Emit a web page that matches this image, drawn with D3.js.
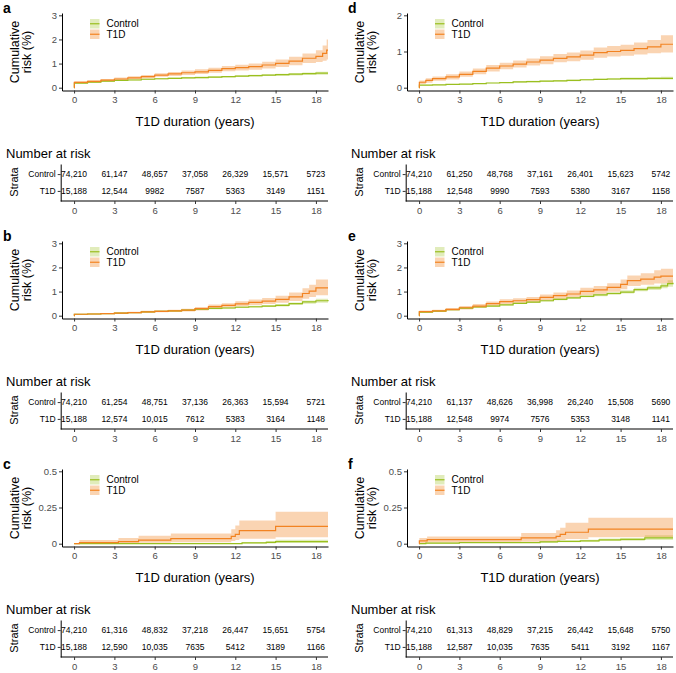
<!DOCTYPE html>
<html>
<head>
<meta charset="utf-8">
<script src="https://cdn.jsdelivr.net/npm/d3@7"></script>
<style>
body { margin: 0; background: #fff; }
svg text { font-family: "Liberation Sans", Arial, sans-serif; }
</style>
</head>
<body>
<div id="chart"></div>
<script>
const years = [0, 3, 6, 9, 12, 15, 18];
const groups = ["Control", "T1D"];
const panelIds = ["a", "b", "c", "d", "e", "f"];

// cumulative risk (%) as [time, estimate, lower, upper]
const aControl = [[0,0,0,0],[0.02,0.19,0.17,0.21],[1,0.23,0.21,0.25],[2,0.27,0.25,0.29],[3,0.30,0.28,0.32],[4,0.32,0.30,0.35],[5,0.35,0.32,0.38],[6,0.37,0.34,0.40],[7,0.39,0.36,0.42],[8,0.41,0.38,0.44],[9,0.42,0.39,0.46],[10,0.44,0.40,0.47],[11,0.46,0.42,0.49],[12,0.48,0.44,0.52],[13,0.50,0.46,0.54],[14,0.52,0.48,0.56],[15,0.54,0.49,0.58],[16,0.56,0.51,0.61],[17,0.58,0.53,0.63],[18,0.60,0.54,0.66],[18.9,0.60,0.54,0.66]];
const aT1D = [[0,0,0,0],[0.02,0.22,0.18,0.27],[1,0.26,0.21,0.31],[2,0.31,0.26,0.36],[3,0.36,0.30,0.42],[4,0.41,0.35,0.47],[5,0.46,0.39,0.53],[6,0.52,0.45,0.60],[7,0.57,0.49,0.65],[8,0.62,0.53,0.71],[9,0.66,0.57,0.76],[10,0.72,0.62,0.83],[11,0.79,0.68,0.90],[12,0.83,0.71,0.95],[13,0.87,0.74,1.00],[14,0.94,0.80,1.08],[15,1.01,0.86,1.17],[16,1.10,0.93,1.28],[17,1.22,1.02,1.42],[18,1.30,1.07,1.55],[18.5,1.42,1.12,1.75],[18.8,1.56,1.17,2.0],[18.9,1.56,1.17,2.0]];

const bControl = [[0,0,0,0],[0.02,0.06,0.05,0.07],[1,0.07,0.06,0.08],[2,0.09,0.08,0.10],[3,0.11,0.10,0.12],[4,0.13,0.12,0.15],[5,0.16,0.14,0.18],[6,0.18,0.16,0.20],[7,0.20,0.18,0.22],[8,0.23,0.21,0.26],[9,0.27,0.24,0.30],[10,0.30,0.27,0.33],[11,0.32,0.29,0.35],[12,0.35,0.32,0.39],[13,0.37,0.33,0.41],[14,0.40,0.36,0.44],[15,0.43,0.38,0.48],[16,0.50,0.44,0.55],[17,0.57,0.50,0.63],[18,0.62,0.54,0.70],[18.9,0.65,0.56,0.75]];
const bT1D = [[0,0,0,0],[0.02,0.06,0.04,0.08],[1,0.07,0.05,0.09],[2,0.09,0.07,0.11],[3,0.11,0.08,0.14],[4,0.13,0.10,0.16],[5,0.16,0.12,0.20],[6,0.18,0.14,0.23],[7,0.20,0.15,0.25],[8,0.23,0.17,0.29],[9,0.29,0.22,0.36],[10,0.38,0.30,0.46],[11,0.43,0.34,0.52],[12,0.49,0.39,0.60],[13,0.55,0.44,0.67],[14,0.60,0.48,0.73],[15,0.68,0.54,0.83],[16,0.78,0.61,0.96],[17,0.92,0.70,1.14],[17.5,1.02,0.77,1.28],[18,1.15,0.85,1.50],[18.9,1.15,0.85,1.50]];

const cControl = [[0,0,0,0],[12.5,0.006,0.001,0.012],[14.3,0.009,0.002,0.018],[15,0.014,0.005,0.028],[18.9,0.014,0.005,0.028]];
const cT1D = [[0,0,0,0],[0.4,0.007,0,0.025],[3.3,0.014,0.002,0.04],[4.8,0.025,0.006,0.055],[7.2,0.035,0.01,0.07],[11.7,0.05,0.018,0.10],[12.0,0.065,0.025,0.125],[12.3,0.09,0.035,0.16],[15,0.12,0.045,0.22],[18.9,0.12,0.045,0.22]];

const dControl = [[0,0,0,0],[0.02,0.07,0.06,0.08],[1,0.08,0.07,0.09],[2,0.09,0.08,0.10],[3,0.10,0.09,0.11],[4,0.11,0.10,0.12],[5,0.13,0.12,0.14],[6,0.14,0.13,0.16],[7,0.16,0.14,0.18],[8,0.17,0.15,0.19],[9,0.18,0.16,0.20],[10,0.19,0.17,0.21],[11,0.20,0.18,0.22],[12,0.22,0.20,0.24],[13,0.23,0.21,0.25],[14,0.24,0.21,0.27],[15,0.25,0.22,0.28],[16,0.25,0.22,0.28],[17,0.26,0.23,0.29],[18,0.26,0.23,0.30],[18.9,0.26,0.23,0.30]];
const dT1D = [[0,0,0,0],[0.02,0.15,0.10,0.20],[0.5,0.20,0.14,0.26],[1,0.25,0.19,0.31],[2,0.30,0.23,0.37],[3,0.37,0.30,0.45],[4,0.45,0.37,0.53],[5,0.54,0.45,0.63],[6,0.60,0.51,0.69],[7,0.65,0.56,0.75],[8,0.71,0.61,0.81],[9,0.76,0.65,0.87],[10,0.81,0.70,0.93],[11,0.85,0.73,0.97],[12,0.90,0.77,1.03],[13,0.97,0.83,1.11],[14,1.00,0.86,1.15],[15,1.03,0.88,1.19],[16,1.08,0.92,1.25],[17,1.13,0.95,1.32],[18,1.20,0.97,1.45],[18.9,1.20,0.97,1.48]];

const eControl = [[0,0,0,0],[0.02,0.15,0.13,0.17],[1,0.19,0.17,0.21],[2,0.25,0.23,0.27],[3,0.31,0.29,0.33],[4,0.36,0.34,0.39],[5,0.40,0.38,0.43],[6,0.45,0.42,0.48],[7,0.51,0.48,0.54],[8,0.56,0.53,0.59],[9,0.62,0.59,0.66],[10,0.68,0.64,0.72],[11,0.74,0.70,0.78],[12,0.80,0.76,0.85],[13,0.86,0.81,0.91],[14,0.92,0.87,0.98],[15,0.98,0.92,1.05],[16,1.08,1.01,1.16],[17,1.15,1.07,1.24],[18,1.24,1.14,1.35],[18.5,1.33,1.20,1.47],[18.9,1.37,1.22,1.52]];
const eT1D = [[0,0,0,0],[0.02,0.17,0.12,0.22],[1,0.20,0.15,0.25],[2,0.26,0.20,0.32],[3,0.33,0.26,0.40],[4,0.40,0.32,0.48],[5,0.50,0.41,0.59],[6,0.58,0.48,0.68],[7,0.62,0.52,0.72],[8,0.67,0.56,0.78],[9,0.76,0.64,0.88],[10,0.83,0.70,0.96],[11,0.90,0.76,1.04],[12,1.01,0.86,1.16],[13,1.07,0.91,1.23],[14,1.17,0.99,1.35],[15,1.30,1.10,1.50],[15.5,1.45,1.23,1.67],[16.5,1.52,1.28,1.76],[17.5,1.60,1.33,1.88],[18,1.64,1.35,1.95],[18.9,1.64,1.35,1.95]];

const fControl = [[0,0,0,0],[0.5,0.004,0,0.008],[3,0.008,0.004,0.012],[9,0.012,0.007,0.018],[10.3,0.016,0.01,0.022],[12,0.02,0.013,0.028],[13.4,0.027,0.018,0.036],[15,0.03,0.02,0.04],[16.8,0.04,0.025,0.058],[18.9,0.04,0.025,0.058]];
const fT1D = [[0,0,0,0],[0.02,0.019,0.003,0.04],[0.6,0.028,0.008,0.049],[7.6,0.04,0.013,0.074],[10.2,0.051,0.018,0.093],[10.5,0.065,0.025,0.11],[10.9,0.079,0.032,0.144],[12.6,0.10,0.045,0.18],[18.9,0.10,0.045,0.18]];

const yTicksA = [0, 1, 2, 3];
const yTicksB = [0, 1, 2, 3];
const yTicksC = [0, 0.25, 0.5];
const yTicksD = [0, 1, 2];
const yTicksE = [0, 1, 2, 3];
const yTicksF = [0, 0.25, 0.5];

// number at risk
const riskControlA = [74210, 61147, 48657, 37058, 26329, 15571, 5723];
const riskT1DA = [15188, 12544, 9982, 7587, 5363, 3149, 1151];
const riskControlB = [74210, 61254, 48751, 37136, 26363, 15594, 5721];
const riskT1DB = [15188, 12574, 10015, 7612, 5383, 3164, 1148];
const riskControlC = [74210, 61316, 48832, 37218, 26447, 15651, 5754];
const riskT1DC = [15188, 12590, 10035, 7635, 5412, 3189, 1166];
const riskControlD = [74210, 61250, 48768, 37161, 26401, 15623, 5742];
const riskT1DD = [15188, 12548, 9990, 7593, 5380, 3167, 1158];
const riskControlE = [74210, 61137, 48626, 36998, 26240, 15508, 5690];
const riskT1DE = [15188, 12548, 9974, 7576, 5353, 3148, 1141];
const riskControlF = [74210, 61313, 48829, 37215, 26442, 15648, 5750];
const riskT1DF = [15188, 12587, 10035, 7635, 5411, 3192, 1167];

const panels = [
    { curves: [aControl, aT1D], yTicks: yTicksA, risk: [riskControlA, riskT1DA] },
    { curves: [bControl, bT1D], yTicks: yTicksB, risk: [riskControlB, riskT1DB] },
    { curves: [cControl, cT1D], yTicks: yTicksC, risk: [riskControlC, riskT1DC] },
    { curves: [dControl, dT1D], yTicks: yTicksD, risk: [riskControlD, riskT1DD] },
    { curves: [eControl, eT1D], yTicks: yTicksE, risk: [riskControlE, riskT1DE] },
    { curves: [fControl, fT1D], yTicks: yTicksF, risk: [riskControlF, riskT1DF] }
];

const colors = ["#9abf1f", "#f28322"];
const tickGrey = "#4d4d4d";
const fmtRisk = n => n >= 10000 ? d3.format(",")(n) : String(n);

const svg = d3.select("#chart")
    .append("svg")
    .attr("width", 676)
    .attr("height", 673);

const x = d3.scaleLinear().domain([-0.9, 18.9]).range([62, 328]);

const styleAxis = (g, labelColor, size) => {
    g.select(".domain").attr("stroke", "#000").attr("stroke-width", 1);
    g.selectAll(".tick line").attr("stroke", "#333");
    g.selectAll(".tick text")
        .attr("fill", labelColor)
        .style("font-size", size)
        .style("font-family", "'Liberation Sans', Arial, sans-serif");
};

panels.forEach((p, i) => {
    const col = Math.floor(i / 3), row = i % 3;
    const g = svg.append("g").attr("transform", `translate(${col * 345},${row * 228})`);
    const ymax = d3.max(p.yTicks);
    const y = d3.scaleLinear()
        .domain([-0.0387 * ymax, 1.032 * ymax])
        .range([90.5, 13]);

    // panel letter
    g.append("text")
        .attr("x", 3).attr("y", 13)
        .style("font-size", "14px").style("font-weight", "bold")
        .text(panelIds[i]);

    const area = d3.area()
        .curve(d3.curveStepAfter)
        .x(d => x(d[0])).y0(d => y(d[2])).y1(d => y(d[3]));
    const line = d3.line()
        .curve(d3.curveStepAfter)
        .x(d => x(d[0])).y(d => y(d[1]));

    g.selectAll(".band")
        .data(p.curves)
        .enter().append("path")
        .attr("d", area)
        .attr("fill", (d, k) => colors[k])
        .attr("fill-opacity", (d, k) => k ? 0.35 : 0.3);

    g.selectAll(".curve")
        .data(p.curves)
        .enter().append("path")
        .attr("d", line)
        .attr("fill", "none")
        .attr("stroke", (d, k) => colors[k])
        .attr("stroke-width", 1.2);

    g.append("g")
        .attr("transform", "translate(62,0)")
        .call(d3.axisLeft(y).tickValues(p.yTicks).tickSize(3).tickSizeOuter(0).tickPadding(2).tickFormat(d => String(d)))
        .call(a => styleAxis(a, tickGrey, "9.5px"));

    g.append("g")
        .attr("transform", "translate(0,90.5)")
        .call(d3.axisBottom(x).tickValues(years).tickSize(3).tickSizeOuter(0).tickPadding(3))
        .call(a => styleAxis(a, tickGrey, "9.5px"));

    // y title
    g.append("text")
        .attr("transform", "translate(19,52) rotate(-90)")
        .attr("text-anchor", "middle")
        .style("font-size", "12.5px")
        .text("Cumulative");
    g.append("text")
        .attr("transform", "translate(31,52) rotate(-90)")
        .attr("text-anchor", "middle")
        .style("font-size", "12.5px")
        .text("risk (%)");

    g.append("text")
        .attr("x", 195).attr("y", 126)
        .attr("text-anchor", "middle")
        .style("font-size", "13px")
        .text("T1D duration (years)");

    // legend
    const legend = g.selectAll(".legend")
        .data(groups)
        .enter().append("g")
        .attr("transform", (d, k) => `translate(90,${19 + k * 10.5})`);
    legend.append("rect")
        .attr("width", 9.5).attr("height", 9.5)
        .attr("fill", (d, k) => colors[k])
        .attr("fill-opacity", (d, k) => k ? 0.35 : 0.3);
    legend.append("line")
        .attr("x1", 0).attr("x2", 9.5).attr("y1", 4.75).attr("y2", 4.75)
        .attr("stroke", (d, k) => colors[k])
        .attr("stroke-width", 1.2);
    legend.append("text")
        .attr("x", 16.5).attr("y", 4.75).attr("dy", "0.35em")
        .style("font-size", "10px")
        .text(d => d);

    // risk table
    g.append("text")
        .attr("x", 6).attr("y", 158)
        .style("font-size", "13px")
        .text("Number at risk");

    const yT = d3.scalePoint().domain(groups).range([164, 201]).padding(0.6);

    g.append("g")
        .attr("transform", "translate(60.7,0)")
        .call(d3.axisLeft(yT).tickSize(3).tickSizeOuter(0).tickPadding(2))
        .call(a => styleAxis(a, "#000", "8.5px"));

    const tableX = g.append("g")
        .attr("transform", "translate(0,201)")
        .call(d3.axisBottom(x).tickValues(years).tickSize(3).tickSizeOuter(0).tickPadding(3))
        .call(a => styleAxis(a, tickGrey, "9.5px"));
    tableX.select(".domain").attr("d", "M60.7,0H328");

    groups.forEach((grp, k) => {
        g.selectAll(null)
            .data(p.risk[k])
            .enter().append("text")
            .attr("x", (d, j) => x(years[j]))
            .attr("y", yT(grp))
            .attr("dy", "0.35em")
            .attr("text-anchor", "middle")
            .style("font-size", "8.5px")
            .text(fmtRisk);
    });

    g.append("text")
        .attr("transform", "translate(18,182) rotate(-90)")
        .attr("text-anchor", "middle")
        .style("font-size", "11px")
        .text("Strata");
});
</script>
</body>
</html>
